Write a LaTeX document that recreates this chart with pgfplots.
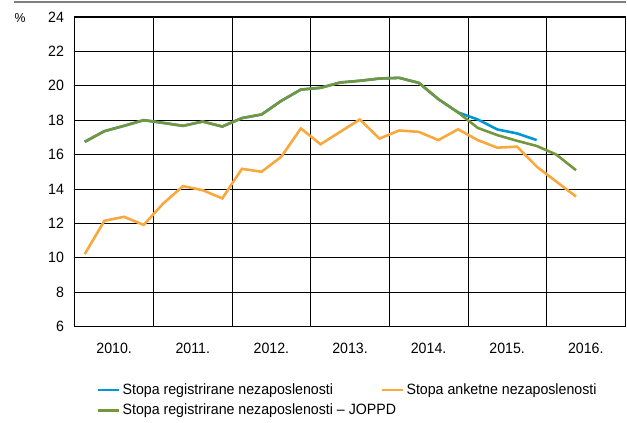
\documentclass[border=0pt]{standalone}
\usepackage{fontspec}
\setmainfont{Liberation Sans}[FakeStretch=0.95]
\usepackage{pgfplots}
\pgfplotsset{compat=1.18}
\definecolor{cblue}{RGB}{0,150,215}
\definecolor{corange}{RGB}{248,168,60}
\definecolor{cgreen}{RGB}{118,150,62}
\begin{document}
\begin{tikzpicture}
\begin{axis}[
  scale only axis, width=551bp, height=310bp,
  xmin=0, xmax=7, ymin=6, ymax=24,
  xtick={0.5,1.5,2.5,3.5,4.5,5.5,6.5},
  xticklabels={2010.,2011.,2012.,2013.,2014.,2015.,2016.},
  minor xtick={1,2,3,4,5,6},
  xminorgrids=true, ymajorgrids=true, xmajorgrids=false,
  ytick={6,8,...,24},
  major tick length=0pt, minor tick length=0pt,
  grid style={black, line width=0.8bp},
  minor grid style={black, line width=0.8bp},
  axis line style={black, line width=1bp},
  tick label style={font=\fontsize{15}{17}\selectfont},
  /pgf/number format/assume math mode=true,
  xticklabel style={yshift=-13bp},
  yticklabel style={xshift=-7.5bp},
  legend columns=2,
  legend cell align=left,
  legend style={draw=none, fill=none, inner sep=0pt, at={(0.04,-0.178)}, anchor=north west,
    font=\fontsize{15}{17}\selectfont,
    /tikz/every even column/.append style={column sep=46bp},
    row sep=4bp},
  legend image code/.code={\draw[#1,line width=2.6bp] (0bp,0bp) -- (21bp,0bp);},
  clip=false,
]
\addplot[cblue, line width=2.6bp] coordinates {
(0.125,16.74) (0.375,17.36) (0.625,17.67) (0.875,18.00)
(1.125,17.84) (1.375,17.67) (1.625,17.92) (1.875,17.63)
(2.125,18.12) (2.375,18.33) (2.625,19.12) (2.875,19.78)
(3.125,19.88) (3.375,20.19) (3.625,20.29) (3.875,20.42)
(4.125,20.46) (4.375,20.17) (4.625,19.22) (4.875,18.45)
(5.125,18.04) (5.375,17.46) (5.625,17.23) (5.875,16.84)
};
\addlegendentry{Stopa registrirane nezaposlenosti}
\addplot[corange, line width=2.6bp] coordinates {
(0.125,10.21) (0.375,12.15) (0.625,12.38) (0.875,11.91)
(1.125,13.16) (1.375,14.16) (1.625,13.93) (1.875,13.45)
(2.125,15.17) (2.375,15.00) (2.625,15.87) (2.875,17.52)
(3.125,16.60) (3.375,17.32) (3.625,18.04) (3.875,16.93)
(4.125,17.40) (4.375,17.32) (4.625,16.84) (4.875,17.47)
(5.125,16.84) (5.375,16.40) (5.625,16.46) (5.875,15.30)
(6.125,14.43) (6.375,13.56)
};
\addlegendentry{Stopa anketne nezaposlenosti}
\addplot[cgreen, line width=2.6bp] coordinates {
(0.125,16.74) (0.375,17.36) (0.625,17.67) (0.875,18.00)
(1.125,17.84) (1.375,17.67) (1.625,17.92) (1.875,17.63)
(2.125,18.12) (2.375,18.33) (2.625,19.12) (2.875,19.78)
(3.125,19.88) (3.375,20.19) (3.625,20.29) (3.875,20.42)
(4.125,20.46) (4.375,20.17) (4.625,19.22) (4.875,18.45)
(5.125,17.55) (5.375,17.13) (5.625,16.80) (5.875,16.50)
(6.125,16.00) (6.375,15.09)
};
\addlegendentry{\makebox[0pt][l]{Stopa registrirane nezaposlenosti -- JOPPD}}
\end{axis}
\draw[black, line width=1.8bp] (current axis.south west) -- (current axis.south east);
\draw[black!50, line width=1.8bp] ([xshift=-61bp,yshift=15bp]current axis.north west) -- ([xshift=1bp,yshift=15bp]current axis.north east);
\node[font=\fontsize{13}{15}\selectfont] at ([xshift=-55bp,yshift=-1.5bp]current axis.north west) {\%};
\path ([xshift=-75bp,yshift=-96bp]current axis.south west) rectangle ([xshift=1bp,yshift=17bp]current axis.north east);
\end{tikzpicture}
\end{document}
